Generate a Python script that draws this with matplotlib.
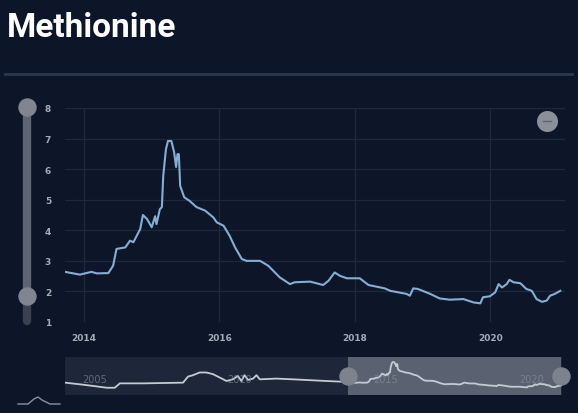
import matplotlib.pyplot as plt

# price series (year, value)
years = [2013.72, 2013.94, 2014.11, 2014.19, 2014.36, 2014.43, 2014.48, 2014.61, 2014.68, 2014.73,
         2014.83, 2014.87, 2014.93, 2015.00, 2015.05, 2015.07, 2015.12, 2015.15, 2015.17, 2015.21,
         2015.24, 2015.29, 2015.33, 2015.36, 2015.38, 2015.40, 2015.42, 2015.48, 2015.56, 2015.66,
         2015.79, 2015.91, 2015.96, 2016.06, 2016.15, 2016.23, 2016.33, 2016.40, 2016.60, 2016.72,
         2016.89, 2017.04, 2017.11, 2017.34, 2017.53, 2017.61, 2017.70, 2017.78, 2017.88, 2018.07,
         2018.20, 2018.44, 2018.52, 2018.76, 2018.81, 2018.86, 2018.93, 2019.11, 2019.25, 2019.40,
         2019.60, 2019.75, 2019.85, 2019.89, 2019.99, 2020.07, 2020.12, 2020.17, 2020.24, 2020.28,
         2020.34, 2020.44, 2020.53, 2020.61, 2020.68, 2020.76, 2020.83, 2020.88, 2020.95, 2021.03]
values = [2.64, 2.55, 2.64, 2.59, 2.60, 2.84, 3.39, 3.44, 3.66, 3.61,
          4.04, 4.50, 4.37, 4.10, 4.46, 4.20, 4.69, 4.76, 5.78, 6.65,
          6.92, 6.92, 6.56, 6.07, 6.49, 6.49, 5.45, 5.08, 4.96, 4.76,
          4.64, 4.42, 4.26, 4.15, 3.82, 3.44, 3.06, 3.00, 3.00, 2.84,
          2.46, 2.24, 2.30, 2.32, 2.21, 2.35, 2.62, 2.51, 2.43, 2.43,
          2.21, 2.10, 2.02, 1.92, 1.86, 2.10, 2.08, 1.92, 1.77, 1.73,
          1.75, 1.64, 1.61, 1.81, 1.84, 1.97, 2.24, 2.13, 2.24, 2.38,
          2.30, 2.27, 2.08, 2.02, 1.75, 1.66, 1.70, 1.86, 1.92, 2.02]

# older history only shown in the navigator
hist_years = [2004.0, 2004.51, 2004.97, 2005.43, 2005.71, 2005.88, 2006.68, 2008.05, 2008.22, 2008.39,
              2008.62, 2008.85, 2009.08, 2009.31, 2009.54, 2009.76, 2009.93, 2010.05, 2010.16, 2010.28,
              2010.45, 2010.57, 2010.68, 2011.25, 2011.82, 2012.96, 2013.70]
hist_values = [2.6, 2.25, 1.9, 1.53, 1.53, 2.45, 2.45, 2.6, 3.88, 4.17,
               4.74, 4.74, 4.38, 3.67, 2.95, 3.3, 4.0, 2.95, 4.17, 3.17,
               3.45, 4.17, 3.3, 3.45, 3.3, 2.95, 2.74]

x_ticks = [2014, 2016, 2018, 2020]
y_ticks = [1, 2, 3, 4, 5, 6, 7, 8]
nav_labels = [2005, 2010, 2015, 2020]

bg = '#0d1628'
W, H = 578, 414
fig = plt.figure(figsize=(W / 100, H / 100), dpi=100, facecolor=bg)

def box(x0, y0, x1, y1):
    return [x0 / W, 1 - y1 / H, (x1 - x0) / W, (y1 - y0) / H]

# main chart
ax = fig.add_axes(box(65, 109, 565, 323))
ax.set_facecolor(bg)
ax.plot(years, values, color='#86aed4', lw=1.5)
ax.set_xlim(2013.72, 2021.10)
ax.set_ylim(1, 8)
ax.set_xticks(x_ticks)
ax.set_yticks(y_ticks)
ax.grid(color='#1c283e', lw=0.9)
for s in ax.spines.values():
    s.set_visible(False)
ax.tick_params(length=0, colors='#a3abb8', labelsize=6.5, pad=10)
ax.tick_params(axis='x', pad=8)
for t in ax.get_xticklabels() + ax.get_yticklabels():
    t.set_fontweight('bold')

# navigator
nav = fig.add_axes(box(65, 358, 562, 396))
nav.set_facecolor('#1e273a')
nav.set_xlim(2004.0, 2021.05)
nav.set_ylim(0, 8)
nav.axvspan(years[0], years[-1], color='#5a6171', lw=0)
nav.plot(hist_years + years, hist_values + values, color='#c5cad3', lw=1.3)
for yr in nav_labels:
    nav.text(yr, 3.3, str(yr), color='#8d94a3', fontsize=7, ha='center', va='center', alpha=0.6)
nav.scatter([years[0], years[-1]], [4, 4], s=150, color='#7c828e', zorder=5, clip_on=False)
nav.set_xticks([])
nav.set_yticks([])
for s in nav.spines.values():
    s.set_visible(False)

# decorations in pixel space
deco = fig.add_axes([0, 0, 1, 1])
deco.set_xlim(0, W)
deco.set_ylim(H, 0)
deco.axis('off')
deco.text(7, 28, 'Methionine', color='white', fontsize=24, fontweight='bold',
          family='Roboto', va='center', ha='left')
deco.plot([5, 572], [75, 75], color='#2b3850', lw=2)
# vertical slider
deco.plot([27, 27], [108, 297], color='#5d6473', lw=6, solid_capstyle='round')
deco.plot([27, 27], [297, 322], color='#3a4150', lw=6, solid_capstyle='round')
deco.scatter([27, 27], [108, 297], s=150, color='#80858f', zorder=5)
# zoom-out button
deco.scatter([547], [122], s=200, color='#8a8f99', zorder=5)
deco.plot([543, 551], [122, 122], color='#5f6470', lw=1, zorder=6)
# small icon bottom left
deco.plot([18, 28, 34, 38, 42, 46, 50, 60], [405, 405, 400, 398, 401, 403, 405, 405],
          color='#8a909c', lw=1)

fig.savefig('out.png', dpi=100, facecolor=bg)
